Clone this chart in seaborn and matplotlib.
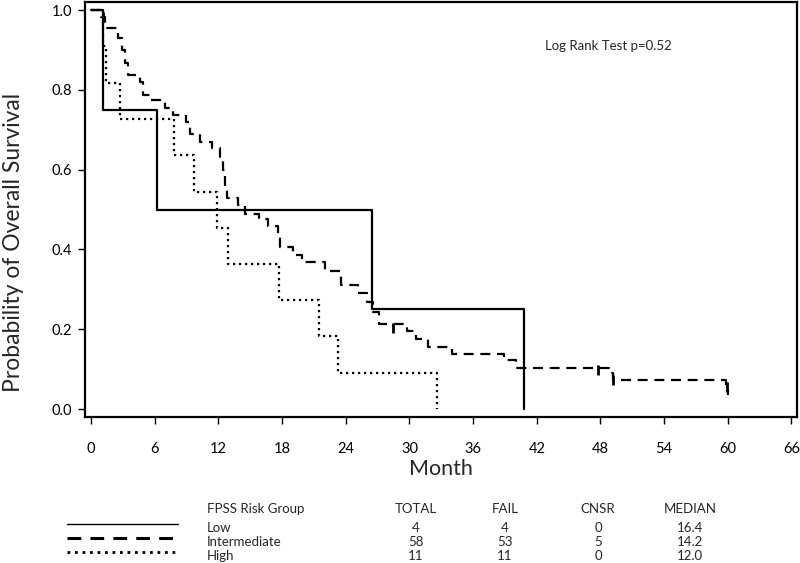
import matplotlib
matplotlib.use("Agg")
import matplotlib.pyplot as plt
from matplotlib.lines import Line2D
import seaborn as sns
import pandas as pd

# Curvas de sobrevivência (tempo do evento, sobrevivência depois do evento)
lowTime = [0, 1.1, 6.2, 26.5, 40.8]
lowSurv = [1.0, 0.75, 0.5, 0.25, 0.0]

highTime = [0, 1.1, 1.4, 2.7, 7.8, 9.7, 11.9, 12.9, 17.7, 21.5, 23.3, 32.6]
highSurv = [1.0, 0.909, 0.818, 0.727, 0.636, 0.545, 0.455, 0.364, 0.273, 0.182, 0.091, 0.0]

interTime = [0, 0.9, 1.3, 2.5, 2.9, 3.2, 3.5, 4.6, 4.9, 5.5, 7.0, 7.7, 8.9, 9.3,
             10.3, 11.4, 12.1, 12.4, 12.6, 12.8, 13.8, 14.5, 15.8, 16.7, 17.6,
             17.8, 19.0, 19.9, 22.0, 23.5, 25.1, 26.0, 26.6, 27.1, 29.8, 30.6,
             31.7, 34.0, 38.9, 40.0, 48.8, 49.2, 59.8, 60.0]
interSurv = [1.0, 0.983, 0.955, 0.93, 0.90, 0.867, 0.837, 0.82, 0.787, 0.774,
             0.754, 0.737, 0.72, 0.69, 0.67, 0.654, 0.632, 0.60, 0.556, 0.529,
             0.511, 0.49, 0.476, 0.46, 0.43, 0.406, 0.386, 0.368, 0.345, 0.31,
             0.29, 0.268, 0.243, 0.212, 0.196, 0.175, 0.155, 0.138, 0.122,
             0.103, 0.09, 0.073, 0.055, 0.035]

# Censuras (Intermediate)
censorTime = [1.1, 28.4, 47.8, 49.2, 59.9]
censorSurv = [0.983, 0.203, 0.098, 0.073, 0.055]

# Tabela
groups = ["Low", "Intermediate", "High"]
totals = [4, 58, 11]
fails = [4, 53, 11]
cnsr = [0, 5, 0]
medians = ["16.4", "14.2", "12.0"]

xTicks = list(range(0, 67, 6))
yTicks = [0.0, 0.2, 0.4, 0.6, 0.8, 1.0]

sns.set_style("ticks")
plt.rcParams["font.family"] = ["Lato", "DejaVu Sans"]

fig = plt.figure(figsize=(8, 5.63), dpi=100)
ax = fig.add_axes([0.106, 0.2593, 0.89, 0.737])

lw = 1.6
sns.lineplot(x=lowTime, y=lowSurv, drawstyle="steps-post", estimator=None,
             color="black", linewidth=lw, ax=ax)
sns.lineplot(x=interTime, y=interSurv, drawstyle="steps-post", estimator=None,
             color="black", linewidth=lw, linestyle=(0, (4.5, 3)), ax=ax)
sns.lineplot(x=highTime, y=highSurv, drawstyle="steps-post", estimator=None,
             color="black", linewidth=lw, linestyle=(0, (1, 1.7)), ax=ax)
ax.scatter(censorTime, censorSurv, marker="|", s=60, color="black", linewidths=2)

ax.set_xlim(-0.6, 66.5)
ax.set_ylim(-0.02, 1.02)
ax.set_xticks(xTicks)
ax.set_xticklabels([str(t) for t in xTicks])
ax.set_yticks(yTicks)
ax.set_yticklabels([f"{t:.1f}" for t in yTicks])
for s in ax.spines.values():
    s.set_visible(True)
    s.set_linewidth(1.6)
    s.set_color("black")
ax.tick_params(axis="x", length=5, width=1, pad=13, labelsize=10.5, colors="black")
ax.tick_params(axis="y", length=5, width=1, pad=4, labelsize=10.5, colors="black")
ax.set_xlabel("Month", fontsize=15.5, labelpad=2)
ax.set_ylabel("Probability of Overall Survival", fontsize=16.5)
ax.yaxis.set_label_coords(-0.086, 0.42)
ax.text(0.735, 0.893, "Log Rank Test p=0.52", transform=ax.transAxes,
        fontsize=9.5, ha="center", va="center")

# Tabela por baixo
W, H = 800, 563
def fx(px):
    return px / W
def fy(py):
    return 1 - py / H

cols = [416, 505, 598, 690]
fs = 9.5
fig.text(fx(207), fy(509), "FPSS Risk Group", fontsize=fs, ha="left", va="center")
for c, h in zip(cols, ["TOTAL", "FAIL", "CNSR", "MEDIAN"]):
    fig.text(fx(c), fy(509), h, fontsize=fs, ha="center", va="center")

rowY = [528, 542, 556]
styles = ["-", (0, (4.5, 3)), (0, (1, 1.7))]
lineY = [524, 538, 552]
lineW = [1.0, 2.2, 2.0]
for i, g in enumerate(groups):
    y = fy(rowY[i])
    fig.text(fx(207), y, g, fontsize=fs, ha="left", va="center")
    vals = [str(totals[i]), str(fails[i]), str(cnsr[i]), medians[i]]
    for c, v in zip(cols, vals):
        fig.text(fx(c), y, v, fontsize=fs, ha="center", va="center")
    fig.add_artist(Line2D([fx(67), fx(178)], [fy(lineY[i]), fy(lineY[i])],
                          transform=fig.transFigure, color="black",
                          linewidth=lineW[i], linestyle=styles[i]))

fig.savefig("out.png", dpi=100)
